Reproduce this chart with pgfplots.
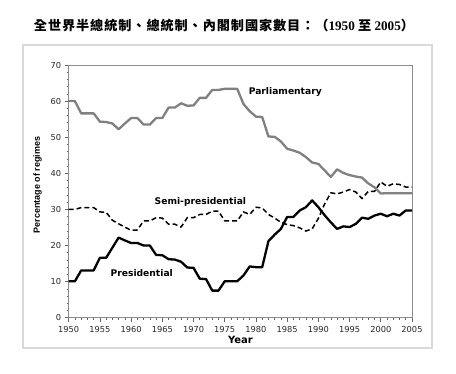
\documentclass[border=0pt]{standalone}
\usepackage{fontspec}
\setmainfont{DejaVu Sans}
\newfontfamily\cjk[LetterSpace=7]{Noto Sans CJK TC}
\newfontfamily\tnr{Liberation Serif}
\newfontfamily\arial{Liberation Sans}
\usepackage{pgfplots}
\pgfplotsset{compat=1.18}
\usepackage{pgfplotstable}

\pgfplotstableread{
year par semi pres
1950 60.0 30.0 10.1
1951 60.0 30.0 10.1
1952 56.6 30.5 13.1
1953 56.6 30.5 13.1
1954 56.6 30.5 13.1
1955 54.3 29.3 16.6
1956 54.2 29.2 16.6
1957 53.8 27.0 19.4
1958 52.2 26.0 22.2
1959 53.8 25.1 21.4
1960 55.3 24.2 20.7
1961 55.3 24.3 20.7
1962 53.5 26.8 20.0
1963 53.5 26.8 20.0
1964 55.3 27.7 17.4
1965 55.3 27.6 17.3
1966 58.2 25.9 16.2
1967 58.2 25.9 16.1
1968 59.4 25.1 15.5
1969 58.7 27.7 13.9
1970 58.8 27.7 13.8
1971 60.9 28.6 10.8
1972 60.9 28.6 10.7
1973 63.1 29.5 7.5
1974 63.1 29.5 7.5
1975 63.4 26.8 10.1
1976 63.4 26.8 10.1
1977 63.4 26.8 10.1
1978 59.2 29.3 11.7
1979 57.2 28.6 14.2
1980 55.7 30.6 14.0
1981 55.6 30.4 14.0
1982 50.2 28.6 21.2
1983 50.1 27.6 23.0
1984 48.8 26.4 24.6
1985 46.8 25.8 27.9
1986 46.3 25.5 27.9
1987 45.7 24.9 29.7
1988 44.5 24.0 30.6
1989 43.0 24.6 32.5
1990 42.6 27.5 30.6
1991 40.8 31.5 28.4
1992 39.0 34.6 26.4
1993 41.1 34.3 24.6
1994 40.1 34.8 25.3
1995 39.5 35.5 25.1
1996 39.1 34.8 26.0
1997 38.8 33.0 27.7
1998 37.2 35.0 27.4
1999 36.1 35.0 28.3
2000 34.4 37.6 28.8
2001 34.5 36.4 28.1
2002 34.5 37.1 28.8
2003 34.5 36.9 28.3
2004 34.5 36.2 29.7
2005 34.5 36.2 29.7
}\datatable

\definecolor{pargray}{RGB}{128,128,128}

\begin{document}
\begin{tikzpicture}
\useasboundingbox (0,0) rectangle (456bp,374bp);
\draw[black!15, line width=1.2bp] (23bp,26bp) rectangle (432bp,329bp);
\node[anchor=center] at (224bp,349bp) {\fontsize{13.2}{15}\selectfont{\cjk\bfseries 全世界半總統制、總統制、內閣制國家數目：（}{\tnr\bfseries 1950 }{\cjk\bfseries 至}{\tnr\bfseries\ 2005}{\cjk\bfseries ）}};
\begin{axis}[
  at={(68.7bp,56.3bp)}, anchor=south west,
  scale only axis, width=343.3bp, height=252.7bp,
  xmin=1950, xmax=2005, ymin=0, ymax=70,
  xtick={1950,1955,...,2005}, minor x tick num=4,
  ytick={0,10,...,70}, minor y tick num=4,
  xtick pos=left, ytick pos=left,
  tick align=outside,
  major tick length=4bp, minor tick length=2bp,
  tick style={black!60, line width=0.6bp},
  axis line style={draw=black!45, line width=0.8bp},
  ticklabel style={font=\fontsize{8.3}{10}\selectfont, text=black!85},
  /pgf/number format/assume math mode=true,
  /pgf/number format/1000 sep={},
  xticklabel style={yshift=-1bp},
  xlabel={Year},
  xlabel style={at={(axis description cs:0.5,-0.088)}, anchor=center, font=\bfseries\fontsize{10}{12}\selectfont},
  ylabel={Percentage of regimes},
  ylabel style={at={(axis description cs:-0.091,0.525)}, anchor=center, font=\arial\bfseries\fontsize{9}{11}\selectfont},
  clip=false,
]
\addplot[pargray, line width=2.3bp, line join=round, no markers] table[x=year, y=par] {\datatable};
\addplot[black, line width=1.5bp, dash pattern=on 5bp off 3bp, line join=round, no markers] table[x=year, y=semi] {\datatable};
\addplot[black, line width=2.3bp, line join=round, no markers] table[x=year, y=pres] {\datatable};
\node[font=\bfseries\fontsize{9.2}{11}\selectfont] at (axis cs:1984.7,62.5) {Parliamentary};
\node[font=\bfseries\fontsize{9.2}{11}\selectfont] at (axis cs:1971.1,32.0) {Semi-presidential};
\node[font=\bfseries\fontsize{9.2}{11}\selectfont] at (axis cs:1961.7,12.4) {Presidential};
\end{axis}
\end{tikzpicture}
\end{document}
